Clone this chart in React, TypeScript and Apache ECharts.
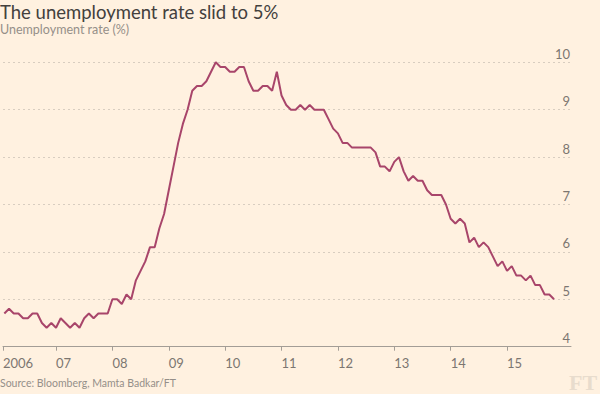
import React, { useEffect, useRef } from "react";
import * as echarts from "echarts";

const years = [2006, 2007, 2008, 2009, 2010, 2011, 2012, 2013, 2014, 2015];
const rate2006 = [4.7, 4.8, 4.7, 4.7, 4.6, 4.6, 4.7, 4.7, 4.5, 4.4, 4.5, 4.4];
const rate2007 = [4.6, 4.5, 4.4, 4.5, 4.4, 4.6, 4.7, 4.6, 4.7, 4.7, 4.7, 5.0];
const rate2008 = [5.0, 4.9, 5.1, 5.0, 5.4, 5.6, 5.8, 6.1, 6.1, 6.5, 6.8, 7.3];
const rate2009 = [7.8, 8.3, 8.7, 9.0, 9.4, 9.5, 9.5, 9.6, 9.8, 10.0, 9.9, 9.9];
const rate2010 = [9.8, 9.8, 9.9, 9.9, 9.6, 9.4, 9.4, 9.5, 9.5, 9.4, 9.8, 9.3];
const rate2011 = [9.1, 9.0, 9.0, 9.1, 9.0, 9.1, 9.0, 9.0, 9.0, 8.8, 8.6, 8.5];
const rate2012 = [8.3, 8.3, 8.2, 8.2, 8.2, 8.2, 8.2, 8.1, 7.8, 7.8, 7.7, 7.9];
const rate2013 = [8.0, 7.7, 7.5, 7.6, 7.5, 7.5, 7.3, 7.2, 7.2, 7.2, 7.0, 6.7];
const rate2014 = [6.6, 6.7, 6.6, 6.2, 6.3, 6.1, 6.2, 6.1, 5.9, 5.7, 5.8, 5.6];
const rate2015 = [5.7, 5.5, 5.5, 5.4, 5.5, 5.3, 5.3, 5.1, 5.1, 5.0];
const ratesByYear = [rate2006, rate2007, rate2008, rate2009, rate2010, rate2011, rate2012, rate2013, rate2014, rate2015];

const xTickYears = [2007, 2008, 2009, 2010, 2011, 2012, 2013, 2014, 2015];
const xTickLabels = ["2006", "07", "08", "09", "10", "11", "12", "13", "14", "15"];
const yTicks = [4, 5, 6, 7, 8, 9, 10];

const titleText = "The unemployment rate slid to 5%";
const subtitleText = "Unemployment rate (%)";
const sourceText = "Source: Bloomberg, Mamta Badkar/FT";

const X_MIN = 2006.0595;
const X_MAX = 2016.1345;

export default function App() {
  const ref = useRef<HTMLDivElement>(null);
  useEffect(() => {
    if (!ref.current) return;
    const chart = echarts.init(ref.current, null, { renderer: "svg" });
    const data: [number, number][] = [];
    years.forEach((y, yi) => {
      ratesByYear[yi].forEach((v, m) => data.push([y + (m + 1) / 12, v]));
    });
    const tickVals = [X_MIN, ...xTickYears];
    const font = "Lato, 'Noto Sans', sans-serif";
    chart.setOption({
      animation: false,
      backgroundColor: "#fff1e0",
      textStyle: { fontFamily: font },
      title: [
        {
          text: titleText,
          left: 0,
          top: 2,
          padding: 0,
          textStyle: { fontFamily: font, fontSize: 18.5, fontWeight: "normal", color: "#43403d" },
        },
        {
          text: subtitleText,
          left: 0,
          top: 23,
          padding: 0,
          textStyle: { fontFamily: font, fontSize: 12.5, fontWeight: "normal", color: "#958f89" },
        },
      ],
      grid: { left: 0, right: 29, top: 62.3, bottom: 47.3, containLabel: false },
      xAxis: {
        type: "value",
        min: X_MIN,
        max: X_MAX,
        axisLine: { show: true, lineStyle: { color: "#a39d96", width: 1 } },
        axisTick: { show: true, length: 4, customValues: tickVals, lineStyle: { color: "#a39d96" } },
        axisLabel: {
          customValues: tickVals,
          align: "left",
          margin: 10,
          fontSize: 13,
          color: "#7c7671",
          fontFamily: font,
          formatter: (v: number) => {
            const i = tickVals.findIndex((t) => Math.abs(t - v) < 1e-6);
            return i >= 0 ? xTickLabels[i] : "";
          },
        },
        splitLine: { show: false },
      },
      yAxis: {
        type: "value",
        position: "right",
        min: yTicks[0],
        max: yTicks[yTicks.length - 1],
        interval: 1,
        axisLine: { show: false },
        axisTick: { show: false },
        axisLabel: {
          inside: true,
          margin: 1,
          fontSize: 13,
          color: "#7c7671",
          fontFamily: font,
          verticalAlign: "bottom",
          padding: [0, 0, 2, 0],
        },
        splitLine: { show: true, lineStyle: { color: "#d8cdc0", type: [2, 3], width: 1 } },
      },
      series: [
        {
          type: "line",
          data,
          showSymbol: false,
          lineStyle: { color: "#a8456a", width: 2 },
          itemStyle: { color: "#a8456a" },
          clip: false,
        },
      ],
      graphic: [
        {
          type: "text",
          left: 0,
          top: 377,
          style: { text: sourceText, fontSize: 10.5, fill: "#958f89", fontFamily: font },
        },
        {
          type: "text",
          left: 569,
          top: 371,
          style: { text: "FT", fontSize: 22, fontWeight: "bold", fill: "#e8dccd", fontFamily: "'Liberation Serif', 'DejaVu Serif', serif" },
        },
      ],
    });
    return () => chart.dispose();
  }, []);
  return <div ref={ref} style={{ position: "fixed", left: 0, top: 0, width: 600, height: 394 }} />;
}
